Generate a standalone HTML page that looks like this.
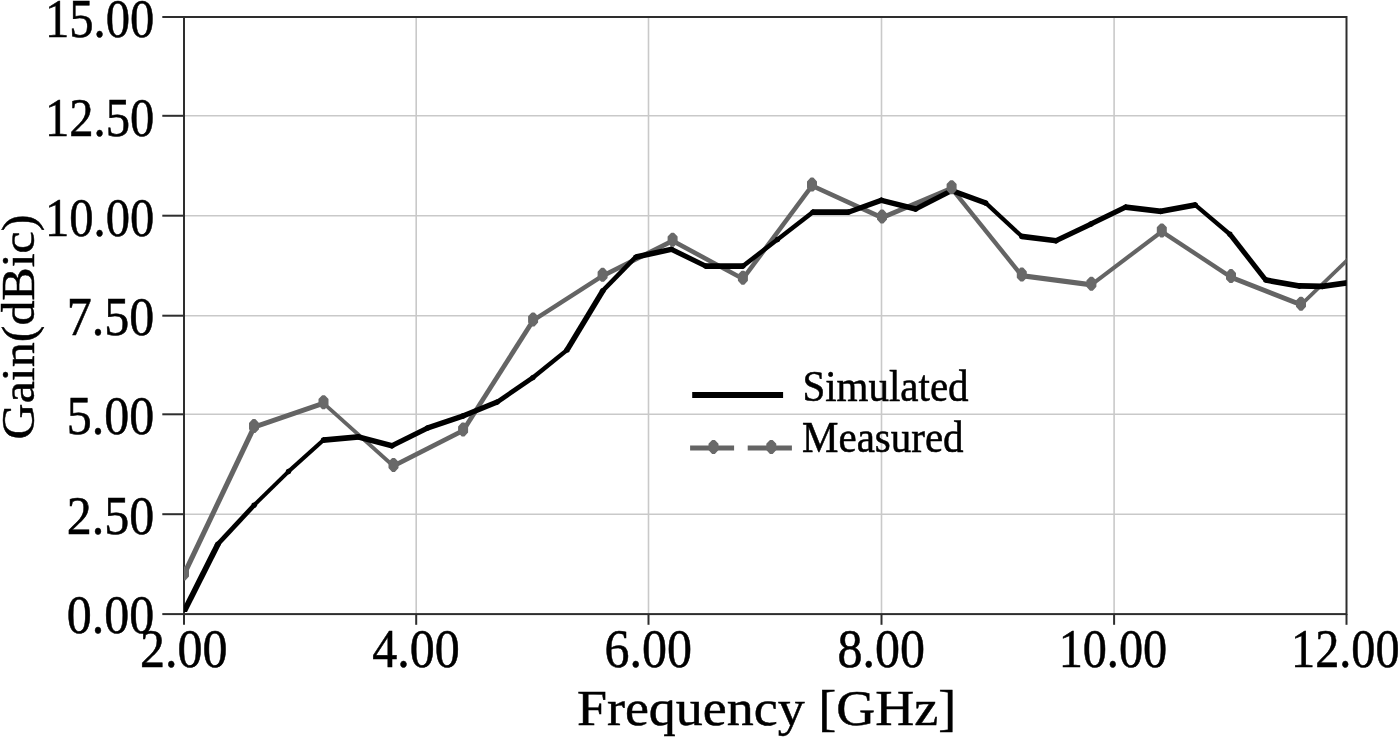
<!DOCTYPE html>
<html lang="en"><head><meta charset="utf-8"><title>Gain vs Frequency</title>
<style>html,body{margin:0;padding:0;background:#fff;}body{width:1400px;height:737px;overflow:hidden;}svg{display:block;}text{font-family:"Liberation Serif","Times New Roman",serif;fill:#000;stroke:#000;stroke-width:0.5px;}</style></head><body>
<svg width="1400" height="737" viewBox="0 0 1400 737">
<rect width="1400" height="737" fill="#fff"/>
<defs><clipPath id="plot"><rect x="184.0" y="17.0" width="1162.5" height="597.1"/></clipPath></defs>
<g stroke="#c9c9c9" stroke-width="1.6" fill="none">
<line x1="184.0" y1="115.8" x2="1346.5" y2="115.8"/>
<line x1="184.0" y1="215.7" x2="1346.5" y2="215.7"/>
<line x1="184.0" y1="315.7" x2="1346.5" y2="315.7"/>
<line x1="184.0" y1="414.3" x2="1346.5" y2="414.3"/>
<line x1="184.0" y1="514.2" x2="1346.5" y2="514.2"/>
<line x1="416.2" y1="17.0" x2="416.2" y2="614.1"/>
<line x1="648.5" y1="17.0" x2="648.5" y2="614.1"/>
<line x1="881.5" y1="17.0" x2="881.5" y2="614.1"/>
<line x1="1114.1" y1="17.0" x2="1114.1" y2="614.1"/>
</g>
<g stroke="#2e2e2e" stroke-width="2" fill="none" stroke-linecap="butt">
<rect x="184.0" y="17.0" width="1162.5" height="597.1"/>
<line x1="162.3" y1="17.0" x2="184.0" y2="17.0"/>
<line x1="162.3" y1="115.8" x2="184.0" y2="115.8"/>
<line x1="162.3" y1="215.7" x2="184.0" y2="215.7"/>
<line x1="162.3" y1="315.7" x2="184.0" y2="315.7"/>
<line x1="162.3" y1="414.3" x2="184.0" y2="414.3"/>
<line x1="162.3" y1="514.2" x2="184.0" y2="514.2"/>
<line x1="162.3" y1="614.1" x2="184.0" y2="614.1"/>
<line x1="184.0" y1="614.1" x2="184.0" y2="624.8"/>
<line x1="416.2" y1="614.1" x2="416.2" y2="624.8"/>
<line x1="648.5" y1="614.1" x2="648.5" y2="624.8"/>
<line x1="881.5" y1="614.1" x2="881.5" y2="624.8"/>
<line x1="1114.1" y1="614.1" x2="1114.1" y2="624.8"/>
<line x1="1346.5" y1="614.1" x2="1346.5" y2="624.8"/>
</g>
<g clip-path="url(#plot)">
<g fill="#646464"><polygon points="181,574.9 251.4,426.8 257,426.8 186.6,574.9"/>
<polygon points="253.6,424.7 323.9,400.6 323.9,405.8 253.6,429.9"/>
<polygon points="323.2,400.4 393.8,463.7 393.8,468.9 323.2,405.6"/>
<polygon points="393.1,463.6 463.5,427.8 463.5,433 393.1,468.8"/>
<polygon points="460.1,430.9 530.5,320.2 536.1,320.2 465.7,430.9"/>
<polygon points="532.8,318.1 602.9,273.1 602.9,278.3 532.8,323.3"/>
<polygon points="602.2,273.5 673,238 673,243.2 602.2,278.7"/>
<polygon points="672.2,238 743.3,276.4 743.3,281.6 672.2,243.2"/>
<polygon points="739.9,279.1 809.4,185.4 815,185.4 745.5,279.1"/>
<polygon points="811.6,182.9 882.4,215.2 882.4,220.4 811.6,188.1"/>
<polygon points="881.6,215.2 952,185.5 952,190.7 881.6,220.4"/>
<polygon points="948.5,188 1019.3,276 1024.9,276 954.1,188"/>
<polygon points="1021.4,273 1091.8,282.3 1091.8,287.5 1021.4,278.2"/>
<polygon points="1091.1,282.4 1162.1,228.7 1162.1,233.9 1091.1,287.6"/>
<polygon points="1161.5,228.7 1231.3,274.8 1231.3,280 1161.5,233.9"/>
<polygon points="1230.6,274.5 1301.4,302.3 1301.4,307.5 1230.6,279.7"/>
<polygon points="1300.7,302.5 1371,234.6 1371,239.8 1300.7,307.7"/>
<circle cx="254" cy="427.2" r="2.4"/>
<circle cx="323.5" cy="403.3" r="2.4"/>
<circle cx="393.5" cy="466" r="2.4"/>
<circle cx="463.1" cy="430.6" r="2.4"/>
<circle cx="533.1" cy="320.5" r="2.4"/>
<circle cx="602.6" cy="275.9" r="2.4"/>
<circle cx="672.6" cy="240.8" r="2.4"/>
<circle cx="742.9" cy="278.8" r="2.4"/>
<circle cx="812" cy="185.7" r="2.4"/>
<circle cx="882" cy="217.6" r="2.4"/>
<circle cx="951.6" cy="188.3" r="2.4"/>
<circle cx="1021.8" cy="275.7" r="2.4"/>
<circle cx="1091.4" cy="284.8" r="2.4"/>
<circle cx="1161.8" cy="231.5" r="2.4"/>
<circle cx="1231" cy="277.2" r="2.4"/>
<circle cx="1301" cy="304.8" r="2.4"/></g>
<g fill="#000"><polygon points="180.6,611.9 214.8,543.9 221.2,543.9 187,611.9"/>
<polygon points="214.3,544.6 251.1,505 257.5,505 220.7,544.6"/>
<polygon points="253.7,502.7 288.8,468.4 288.8,474.1 253.7,508.4"/>
<polygon points="288.2,468.9 323.8,436.9 323.8,442.6 288.2,474.6"/>
<polygon points="323.1,437.2 358.9,434.1 358.9,439.8 323.1,442.9"/>
<polygon points="358.1,434 392.4,443.1 392.4,448.8 358.1,439.7"/>
<polygon points="391.6,443.1 427.9,425 427.9,430.7 391.6,448.8"/>
<polygon points="427.1,425.3 463.4,413 463.4,418.7 427.1,431"/>
<polygon points="462.6,413.3 497.5,399.1 497.5,404.8 462.6,419"/>
<polygon points="496.8,399.5 533.2,374.5 533.2,380.2 496.8,405.2"/>
<polygon points="532.6,375 567.4,346.9 567.4,352.6 532.6,380.7"/>
<polygon points="563.7,350.3 599.8,290.4 606.2,290.4 570.1,350.3"/>
<polygon points="599.3,291 632.8,256.8 639.2,256.8 605.7,291"/>
<polygon points="635.3,254.3 671.8,246.4 671.8,252.1 635.3,260"/>
<polygon points="671,246.3 706.1,263.4 706.1,269.1 671,252"/>
<polygon points="705.3,263.2 743.3,263.2 743.3,269 705.3,269"/>
<polygon points="742.6,263.5 777.8,236.4 777.8,242.1 742.6,269.2"/>
<polygon points="777.2,236.9 813.2,209 813.2,214.7 777.2,242.6"/>
<polygon points="812.5,209.2 849,209.2 849,214.9 812.5,214.9"/>
<polygon points="848.2,209.4 881.8,197.3 881.8,203 848.2,215.1"/>
<polygon points="881,197.4 916.1,206.2 916.1,211.9 881,203.1"/>
<polygon points="915.3,206.3 952,187.5 952,193.2 915.3,212"/>
<polygon points="951.2,187.5 986.1,200.2 986.1,205.9 951.2,193.2"/>
<polygon points="985.4,199.8 1022.1,233.8 1022.1,239.5 985.4,205.5"/>
<polygon points="1021.4,233.5 1056.4,237.9 1056.4,243.6 1021.4,239.2"/>
<polygon points="1055.6,238 1091.4,221 1091.4,226.7 1055.6,243.7"/>
<polygon points="1090.6,221.3 1126.1,204.1 1126.1,209.8 1090.6,227"/>
<polygon points="1125.3,204.2 1161.1,208.6 1161.1,214.3 1125.3,209.9"/>
<polygon points="1160.3,208.6 1195.7,202.1 1195.7,207.8 1160.3,214.3"/>
<polygon points="1195,201.9 1230.3,231.7 1230.3,237.4 1195,207.6"/>
<polygon points="1226.6,234 1262.7,280.3 1269.1,280.3 1233,234"/>
<polygon points="1265.3,277.1 1300,283.2 1300,288.9 1265.3,282.8"/>
<polygon points="1299.2,283.1 1322.9,283.6 1322.9,289.3 1299.2,288.8"/>
<polygon points="1322.1,283.6 1346.9,280 1346.9,285.7 1322.1,289.3"/>
<circle cx="217.8" cy="544.3" r="2.7"/>
<circle cx="254" cy="505.3" r="2.7"/>
<circle cx="288.5" cy="471.5" r="2.7"/>
<circle cx="323.5" cy="440" r="2.7"/>
<circle cx="358.5" cy="437" r="2.7"/>
<circle cx="392" cy="445.8" r="2.7"/>
<circle cx="427.5" cy="428" r="2.7"/>
<circle cx="463" cy="416" r="2.7"/>
<circle cx="497.1" cy="402.1" r="2.7"/>
<circle cx="532.9" cy="377.6" r="2.7"/>
<circle cx="567.1" cy="350" r="2.7"/>
<circle cx="602.8" cy="290.7" r="2.7"/>
<circle cx="635.7" cy="257.1" r="2.7"/>
<circle cx="671.4" cy="249.3" r="2.7"/>
<circle cx="705.7" cy="266.1" r="2.7"/>
<circle cx="742.9" cy="266.1" r="2.7"/>
<circle cx="777.5" cy="239.5" r="2.7"/>
<circle cx="812.9" cy="212.1" r="2.7"/>
<circle cx="848.6" cy="212.1" r="2.7"/>
<circle cx="881.4" cy="200.3" r="2.7"/>
<circle cx="915.7" cy="209" r="2.7"/>
<circle cx="951.6" cy="190.5" r="2.7"/>
<circle cx="985.7" cy="202.9" r="2.7"/>
<circle cx="1021.8" cy="236.4" r="2.7"/>
<circle cx="1056" cy="240.7" r="2.7"/>
<circle cx="1091" cy="224" r="2.7"/>
<circle cx="1125.7" cy="207.1" r="2.7"/>
<circle cx="1160.7" cy="211.4" r="2.7"/>
<circle cx="1195.3" cy="205" r="2.7"/>
<circle cx="1230" cy="234.3" r="2.7"/>
<circle cx="1265.7" cy="280" r="2.7"/>
<circle cx="1299.6" cy="286" r="2.7"/>
<circle cx="1322.5" cy="286.4" r="2.7"/></g>
<g fill="#696969" stroke="#696969" stroke-width="1.6" stroke-linejoin="round">
<path d="M183 567.2h2l3.2 3.4v5.6l-3.2 3.4h-2l-3.2 -3.4v-5.6z"/>
<path d="M253 419.9h2l3.2 3.4v5.6l-3.2 3.4h-2l-3.2 -3.4v-5.6z"/>
<path d="M322.5 396h2l3.2 3.4v5.6l-3.2 3.4h-2l-3.2 -3.4v-5.6z"/>
<path d="M392.5 458.7h2l3.2 3.4v5.6l-3.2 3.4h-2l-3.2 -3.4v-5.6z"/>
<path d="M462.1 423.3h2l3.2 3.4v5.6l-3.2 3.4h-2l-3.2 -3.4v-5.6z"/>
<path d="M532.1 313.2h2l3.2 3.4v5.6l-3.2 3.4h-2l-3.2 -3.4v-5.6z"/>
<path d="M601.6 268.6h2l3.2 3.4v5.6l-3.2 3.4h-2l-3.2 -3.4v-5.6z"/>
<path d="M671.6 233.5h2l3.2 3.4v5.6l-3.2 3.4h-2l-3.2 -3.4v-5.6z"/>
<path d="M741.9 271.5h2l3.2 3.4v5.6l-3.2 3.4h-2l-3.2 -3.4v-5.6z"/>
<path d="M811 178.4h2l3.2 3.4v5.6l-3.2 3.4h-2l-3.2 -3.4v-5.6z"/>
<path d="M881 210.3h2l3.2 3.4v5.6l-3.2 3.4h-2l-3.2 -3.4v-5.6z"/>
<path d="M950.6 181h2l3.2 3.4v5.6l-3.2 3.4h-2l-3.2 -3.4v-5.6z"/>
<path d="M1020.8 268.4h2l3.2 3.4v5.6l-3.2 3.4h-2l-3.2 -3.4v-5.6z"/>
<path d="M1090.4 277.5h2l3.2 3.4v5.6l-3.2 3.4h-2l-3.2 -3.4v-5.6z"/>
<path d="M1160.8 224.2h2l3.2 3.4v5.6l-3.2 3.4h-2l-3.2 -3.4v-5.6z"/>
<path d="M1230 269.9h2l3.2 3.4v5.6l-3.2 3.4h-2l-3.2 -3.4v-5.6z"/>
<path d="M1300 297.5h2l3.2 3.4v5.6l-3.2 3.4h-2l-3.2 -3.4v-5.6z"/>
</g>
</g>
<line x1="692.2" y1="394.9" x2="783.1" y2="394.9" stroke="#000" stroke-width="6"/>
<g stroke="#646464" stroke-width="5.2"><line x1="690.1" y1="448" x2="734.1" y2="448"/><line x1="747.7" y1="448" x2="791.9" y2="448"/></g>
<g fill="#696969" stroke="#696969" stroke-width="1.6" stroke-linejoin="round"><path d="M712.5 440.7h2l3.2 3.4v5.6l-3.2 3.4h-2l-3.2 -3.4v-5.6z"/><path d="M770.3 440.7h2l3.2 3.4v5.6l-3.2 3.4h-2l-3.2 -3.4v-5.6z"/></g>
<text transform="translate(802.4,401.1) scale(1,1.1)" font-size="41">Simulated</text>
<text transform="translate(802,452.4) scale(1,1.1)" font-size="41">Measured</text>
<text transform="translate(154.3,36.60) scale(0.972,1.082)" font-size="50" text-anchor="end">15.00</text>
<text transform="translate(154.3,136.05) scale(0.972,1.082)" font-size="50" text-anchor="end">12.50</text>
<text transform="translate(154.3,235.50) scale(0.972,1.082)" font-size="50" text-anchor="end">10.00</text>
<text transform="translate(154.3,334.95) scale(1,1.082)" font-size="50" text-anchor="end">7.50</text>
<text transform="translate(154.3,434.40) scale(1,1.082)" font-size="50" text-anchor="end">5.00</text>
<text transform="translate(154.3,533.85) scale(1,1.082)" font-size="50" text-anchor="end">2.50</text>
<text transform="translate(154.3,633.30) scale(1,1.082)" font-size="50" text-anchor="end">0.00</text>
<text transform="translate(183.7,666.7) scale(1,1.082)" font-size="50" text-anchor="middle">2.00</text>
<text transform="translate(415.9,666.7) scale(1,1.082)" font-size="50" text-anchor="middle">4.00</text>
<text transform="translate(648.2,666.7) scale(1,1.082)" font-size="50" text-anchor="middle">6.00</text>
<text transform="translate(881.2,666.7) scale(1,1.082)" font-size="50" text-anchor="middle">8.00</text>
<text transform="translate(1112.9,666.7) scale(0.965,1.082)" font-size="50" text-anchor="middle">10.00</text>
<text transform="translate(1345.3,666.7) scale(0.965,1.082)" font-size="50" text-anchor="middle">12.00</text>
<text transform="translate(766.5,725) scale(1,0.94)" font-size="54" text-anchor="middle">Frequency [GHz]</text>
<text transform="translate(34.3,327.0) rotate(-90) scale(1,0.94)" font-size="50" text-anchor="middle">Gain(dBic)</text>
</svg></body></html>
